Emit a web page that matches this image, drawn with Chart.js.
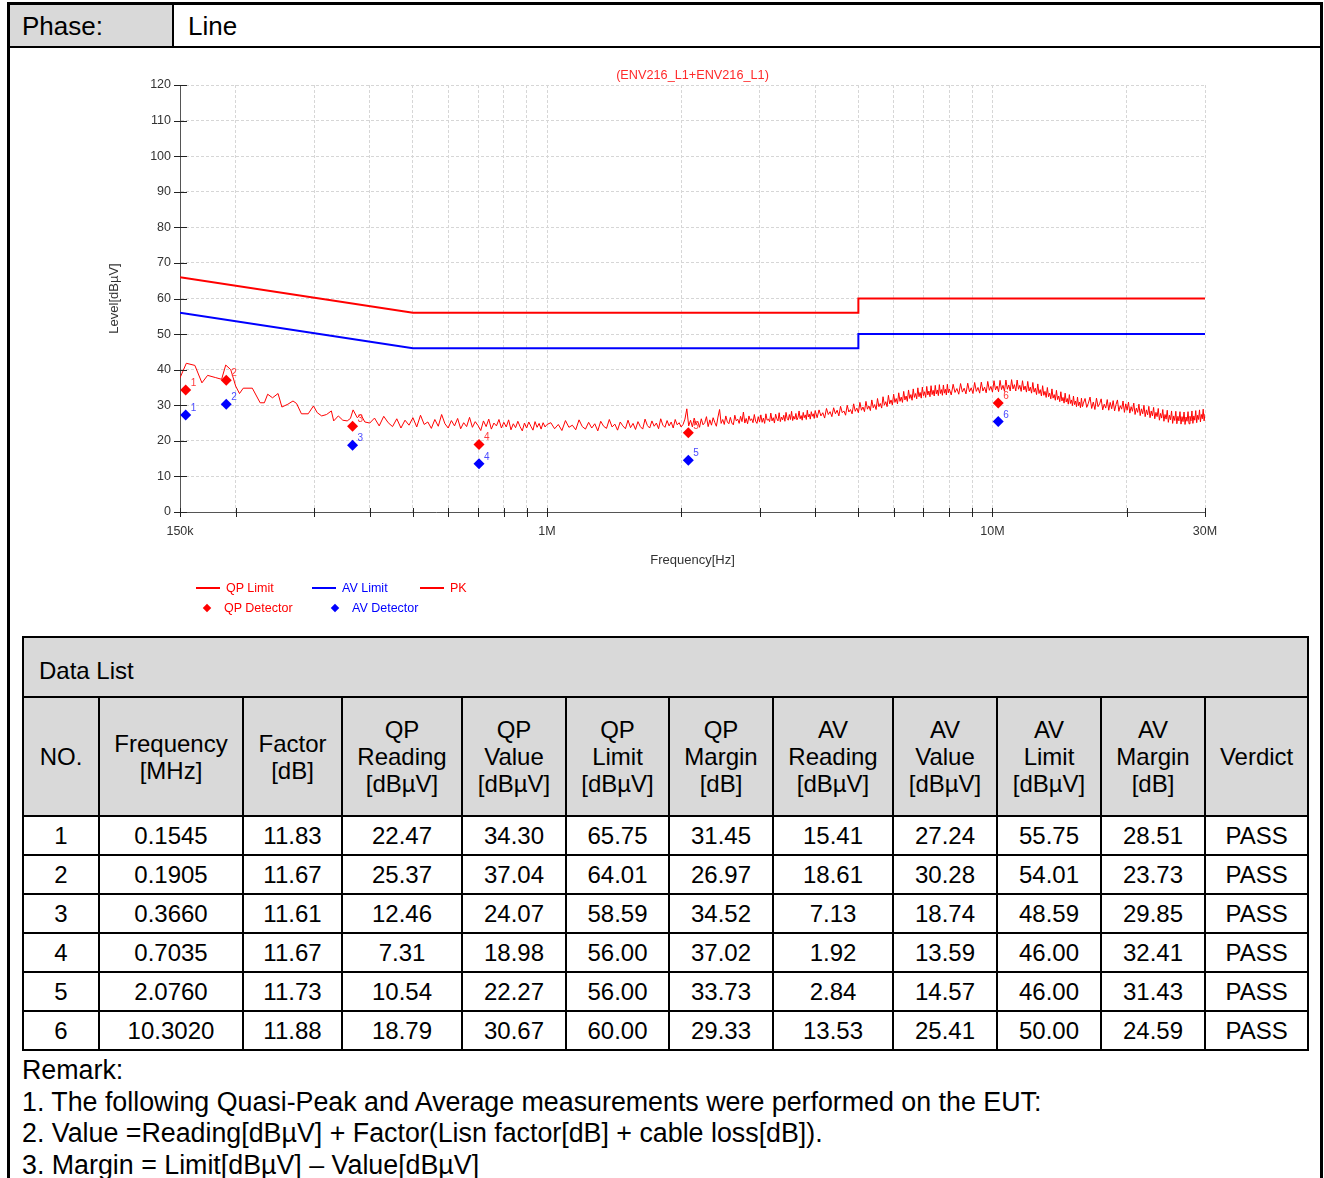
<!DOCTYPE html>
<html>
<head>
<meta charset="utf-8">
<script src="https://cdn.jsdelivr.net/npm/chart.js@4.4.1/dist/chart.umd.min.js"></script>
<style>
  html, body { margin:0; padding:0; background:#fff; }
  body { width:1324px; height:1178px; position:relative; overflow:hidden; font-family:'Liberation Sans', Arial, sans-serif; color:#000; }
  .blk { position:absolute; background:#000; }
  #phaseCell { position:absolute; left:10px; top:5px; width:162px; height:41px; background:#d9d9d9; }
  .phaseTxt { position:absolute; top:5px; height:41px; line-height:43px; font-size:26px; }
  #chartBox { position:absolute; left:0; top:49px; width:1324px; height:580px; }
  #legend { position:absolute; left:0; top:0; font-size:12.5px; }
  .lgLine { position:absolute; height:2px; width:24px; }
  .lgTxt { position:absolute; line-height:14px; white-space:nowrap; }
  .lgDia { position:absolute; width:6px; height:6px; transform:rotate(45deg); }
  #dataTable { position:absolute; left:22px; top:636px; width:1285px; border-collapse:collapse; table-layout:fixed; font-size:24px; }
  #dataTable td { border:2px solid #000; text-align:center; padding:0; vertical-align:middle; }
  #dataTable td.gray { background:#d9d9d9; }
  #dataTable td.hdr { line-height:27px; height:117px; }
  #dataTable td.title { text-align:left; padding-left:15px; height:60px; padding-top:8px; box-sizing:border-box; }
  #dataTable td.val { height:37px; }
  #remarks { position:absolute; left:22px; top:1055px; font-size:26.8px; line-height:31.7px; white-space:nowrap; }
</style>
</head>
<body>
<div id="phaseCell"></div>
<div class="phaseTxt" style="left:22px;">Phase:</div>
<div class="phaseTxt" style="left:188px;">Line</div>
<div class="blk" style="left:172px;top:5px;width:2px;height:41px;"></div>
<div class="blk" style="left:10px;top:46px;width:1311px;height:2px;"></div>

<div id="chartBox"><canvas id="c"></canvas></div>
<div id="legend"></div>

<table id="dataTable"><colgroup id="cols"></colgroup><tbody id="tbody"></tbody></table>
<div id="remarks"></div>

<div class="blk" style="left:7px;top:2px;width:1316px;height:3px;"></div>
<div class="blk" style="left:7px;top:2px;width:3px;height:1176px;"></div>
<div class="blk" style="left:1320px;top:2px;width:3px;height:1176px;"></div>

<script>
// ---------------- data ----------------
const chartTitle = '(ENV216_L1+ENV216_L1)';
const xAxisTitle = 'Frequency[Hz]';
const yAxisTitle = 'Level[dBµV]';

// axis ticks (MHz)
const xTickValues = [0.15,0.2,0.3,0.4,0.5,0.6,0.7,0.8,0.9,1,2,3,4,5,6,7,8,9,10,20,30];
const xLabeledValues = [0.15, 1, 10, 30];
const xLabelTexts = ['150k', '1M', '10M', '30M'];
const yMin = 0, yMax = 120, yStep = 10;

// limit lines
const limitFreqMHz = [0.15, 0.5, 5, 5, 30];
const qpLimitLine = [66, 56, 56, 60, 60];
const avLimitLine = [56, 46, 46, 50, 50];

// peak trace, 150 kHz - 2 MHz (frequency in kHz, level in dBµV)
const pkFreqKHz = [
150,155,162,168,173,180,186,190,195,200,204,208,218,227,232,236,242,249,254,262,269,274,281,291,299,305,312,320,328,332,340,348,356,362,367,375,382,390,
400,410,420,430,440,450,460,470,480,490,500,510,520,530,540,550,560,570,580,590,600,610,620,630,640,650,660,670,680,690,700,710,720,730,740,750,760,770,780,790,800,810,820,830,840,850,860,870,880,890,900,910,920,930,940,950,960,970,980,990,1000,
1020,1040,1060,1080,1100,1120,1140,1160,1180,1200,1220,1240,1260,1280,1300,1320,1340,1360,1380,1400,1420,1440,1460,1480,1500,1520,1540,1560,1580,1600,1620,1640,1660,1680,1700,1720,1740,1760,1780,1800,1820,1840,1860,1880,1900,1920,1940,1960,1980,2000
];
const pkLevel = [
37.7,41.8,41.2,36.3,38.4,37.8,37.3,41.3,40.0,35.4,33.3,34.8,34.8,30.7,30.7,33.1,32.1,33.3,29.5,30.3,31.2,30.5,27.6,27.6,29.8,27.9,27.0,27.4,28.4,25.6,27.0,25.8,25.6,26.3,28.7,26.5,27.4,25.3,
25.0,26.4,24.2,26.9,25.1,24.0,26.2,23.6,25.8,24.4,26.5,23.9,27.2,24.6,25.3,23.5,26.0,24.1,27.4,24.8,23.6,25.7,24.2,26.3,23.4,25.1,24.0,26.6,23.8,25.4,24.3,22.9,25.6,24.0,26.1,23.3,25.0,24.2,26.0,23.6,25.2,23.9,25.9,23.1,24.8,23.7,25.5,24.0,22.8,25.0,23.6,25.3,24.1,23.0,25.4,23.8,24.9,23.3,25.1,23.9,24.6,
25.1,23.4,24.6,22.9,25.7,23.8,24.4,23.1,25.9,24.0,23.3,25.2,23.6,24.8,22.8,25.5,24.1,23.5,26.0,23.9,24.7,23.0,25.3,24.2,23.4,25.8,23.7,24.9,23.2,25.4,24.0,23.3,26.1,24.3,23.6,25.6,24.1,25.0,23.4,26.2,24.4,23.8,25.7,24.2,25.3,23.6,26.0,24.5,25.1,23.9
];

// peak trace, 2 - 30 MHz sweeps (start / step in kHz; one level per step after the start)
const pkSweepStartKHz = [2000, 4000, 8000, 16000];
const pkSweepStepKHz = [20, 40, 80, 140];
const pkLevel2to4M = [
24.6,26.1,29.0,24.2,25.8,23.9,26.4,24.7,25.5,23.8,
26.2,24.5,25.1,26.8,24.0,25.9,24.4,26.5,25.2,24.1,
26.7,28.8,24.9,26.0,24.6,27.0,25.3,24.8,26.6,25.0,
24.5,27.2,25.6,26.1,24.9,26.9,25.4,28.1,25.0,26.3,
24.8,27.0,25.7,26.2,25.1,27.4,25.5,24.9,26.8,25.3,
27.3,25.2,26.4,24.9,27.6,25.8,26.1,25.4,27.8,25.6,
26.5,25.0,27.5,26.2,25.6,27.9,25.4,26.7,25.9,27.2,
25.5,28.0,26.3,25.8,27.4,26.0,28.3,25.7,26.9,26.1,
27.7,25.9,26.6,28.4,26.2,27.1,25.8,28.0,26.5,27.3,
26.0,28.6,26.7,27.5,26.1,28.2,26.9,27.6,26.3,28.5
];
const pkLevel4to8M = [
26.5,28.7,27.0,27.9,26.4,29.1,27.4,28.2,26.8,29.3,
27.6,28.6,27.0,29.7,27.9,28.4,27.2,30.0,28.1,28.8,
27.6,30.4,28.3,29.2,27.9,30.8,28.6,29.5,28.2,31.1,
28.9,29.8,28.5,31.5,29.3,30.2,28.8,31.9,29.6,30.5,
29.2,32.4,30.0,31.0,29.6,32.8,30.4,31.5,30.1,33.1,
30.8,31.9,30.4,33.5,31.1,32.3,30.8,33.9,31.5,32.6,
31.1,34.3,31.9,33.0,31.4,34.6,32.2,33.3,31.8,34.9,
32.4,33.6,32.0,35.1,32.7,33.8,32.2,35.3,32.9,34.0,
32.4,35.5,33.0,34.2,32.6,35.6,33.2,34.3,32.7,35.8,
33.3,34.4,32.8,35.7,33.4,34.5,32.9,35.9,33.5,34.6
];
const pkLevel8to16M = [
32.9,35.9,33.6,34.7,33.1,36.1,33.7,34.8,33.2,36.2,
33.8,34.9,33.3,36.4,33.9,35.0,33.4,36.5,34.0,35.1,
33.5,36.7,34.2,35.3,33.7,36.9,34.3,35.4,33.8,37.0,
34.4,35.6,33.9,37.1,34.5,35.7,34.0,37.2,34.6,35.8,
34.0,37.1,34.5,35.6,33.9,36.9,34.3,35.4,33.7,36.7,
34.0,35.1,33.4,36.4,33.7,34.8,33.0,36.0,33.3,34.4,
32.6,35.5,32.8,33.9,32.2,35.0,32.4,33.4,31.8,34.6,
32.0,33.0,31.4,34.2,31.6,32.6,31.0,33.8,31.2,32.2,
30.6,33.4,30.9,31.9,30.3,33.0,30.5,31.5,29.9,32.6,
30.2,31.2,29.6,32.3,29.9,30.9,29.3,32.0,29.6,30.6
];
const pkLevel16to30M = [
31.9,29.4,30.6,32.3,29.1,30.9,28.8,32.0,29.6,30.4,
31.8,28.7,30.3,29.2,31.6,28.6,30.8,29.0,31.3,28.4,
30.2,31.5,28.3,29.9,28.9,31.2,28.0,30.4,28.6,30.9,
27.8,29.6,28.3,30.6,27.4,29.2,28.0,30.3,27.1,29.0,
27.6,30.0,26.8,28.7,27.3,29.7,26.5,28.4,27.0,29.4,
26.2,28.0,26.8,29.1,25.8,27.7,26.4,28.8,25.5,27.4,
26.1,28.6,25.2,27.2,25.9,28.4,24.9,27.0,25.7,28.3,
24.8,26.9,25.6,28.2,24.7,26.8,25.4,28.1,24.6,26.7,
25.5,28.2,24.8,26.9,25.6,28.4,24.9,27.0,25.8,28.5,
25.1,27.2,26.0,28.7,25.3,27.4,26.2,28.9,25.6,27.6
];
const pkSweepLevels = [pkLevel2to4M, pkLevel4to8M, pkLevel8to16M, pkLevel16to30M];

// final measurement table
const rowNo = [1, 2, 3, 4, 5, 6];
const measFreqMHz = [0.1545, 0.1905, 0.3660, 0.7035, 2.0760, 10.3020];
const factorDb = [11.83, 11.67, 11.61, 11.67, 11.73, 11.88];
const qpReading = [22.47, 25.37, 12.46, 7.31, 10.54, 18.79];
const qpValue = [34.30, 37.04, 24.07, 18.98, 22.27, 30.67];
const qpLimitVal = [65.75, 64.01, 58.59, 56.00, 56.00, 60.00];
const qpMargin = [31.45, 26.97, 34.52, 37.02, 33.73, 29.33];
const avReading = [15.41, 18.61, 7.13, 1.92, 2.84, 13.53];
const avValue = [27.24, 30.28, 18.74, 13.59, 14.57, 25.41];
const avLimitVal = [55.75, 54.01, 48.59, 46.00, 46.00, 50.00];
const avMargin = [28.51, 23.73, 29.85, 32.41, 31.43, 24.59];
const verdict = ['PASS', 'PASS', 'PASS', 'PASS', 'PASS', 'PASS'];

const tableTitle = 'Data List';
const tableHeaders = ['NO.', 'Frequency<br>[MHz]', 'Factor<br>[dB]', 'QP<br>Reading<br>[dBµV]', 'QP<br>Value<br>[dBµV]', 'QP<br>Limit<br>[dBµV]', 'QP<br>Margin<br>[dB]', 'AV<br>Reading<br>[dBµV]', 'AV<br>Value<br>[dBµV]', 'AV<br>Limit<br>[dBµV]', 'AV<br>Margin<br>[dB]', 'Verdict'];
const remarkLines = [
  'Remark:',
  '1. The following Quasi-Peak and Average measurements were performed on the EUT:',
  '2. Value =Reading[dBµV] + Factor(Lisn factor[dB] + cable loss[dB]).',
  '3. Margin = Limit[dBµV] – Value[dBµV]'
];

// ---------------- chart ----------------
const FONT = "'Liberation Sans', Arial, sans-serif";
const RED = '#ff0000', BLUE = '#0000ff';

const toXY = (xs, ys) => xs.map((x, i) => ({x: x, y: ys[i]}));

const pkPoints = toXY(pkFreqKHz.map(k => k / 1000), pkLevel);
pkSweepLevels.forEach((levels, s) => {
  levels.forEach((v, i) => {
    pkPoints.push({ x: (pkSweepStartKHz[s] + (i + 1) * pkSweepStepKHz[s]) / 1000, y: v });
  });
});

const datasets = [
  { label: 'QP Detector', data: toXY(measFreqMHz, qpValue), showLine: false, pointStyle: 'rectRot', pointRadius: 5.5,
    backgroundColor: RED, borderColor: RED, borderWidth: 0, order: 0, markerLabels: rowNo, markerLabelColor: '#ff3a3a' },
  { label: 'AV Detector', data: toXY(measFreqMHz, avValue), showLine: false, pointStyle: 'rectRot', pointRadius: 5.5,
    backgroundColor: BLUE, borderColor: BLUE, borderWidth: 0, order: 1, markerLabels: rowNo, markerLabelColor: '#4a4aff' },
  { label: 'QP Limit', data: toXY(limitFreqMHz, qpLimitLine), borderColor: RED, borderWidth: 2, pointRadius: 0, order: 3 },
  { label: 'AV Limit', data: toXY(limitFreqMHz, avLimitLine), borderColor: BLUE, borderWidth: 2, pointRadius: 0, order: 4 },
  { label: 'PK', data: pkPoints, borderColor: RED, borderWidth: 1, pointRadius: 0, order: 2 }
];

const crossTicks = {
  id: 'crossTicks',
  afterDraw(chart) {
    const {ctx, scales: {x, y}, chartArea} = chart;
    ctx.save();
    ctx.strokeStyle = '#222';
    ctx.lineWidth = 1;
    ctx.beginPath();
    y.ticks.forEach(t => {
      const py = Math.round(y.getPixelForValue(t.value)) + 0.5;
      ctx.moveTo(chartArea.left - 6, py); ctx.lineTo(chartArea.left + 7, py);
    });
    x.ticks.forEach(t => {
      const px = Math.round(x.getPixelForValue(t.value)) + 0.5;
      ctx.moveTo(px, chartArea.bottom - 4); ctx.lineTo(px, chartArea.bottom + 5);
    });
    ctx.stroke();
    ctx.restore();
  }
};

const markerLabels = {
  id: 'markerLabels',
  afterDatasetsDraw(chart) {
    const ctx = chart.ctx;
    ctx.save();
    ctx.font = '10px ' + FONT;
    ctx.textAlign = 'left';
    ctx.textBaseline = 'alphabetic';
    chart.data.datasets.forEach((ds, i) => {
      if (!ds.markerLabels) return;
      ctx.fillStyle = ds.markerLabelColor;
      chart.getDatasetMeta(i).data.forEach((pt, j) => {
        ctx.fillText(String(ds.markerLabels[j]), pt.x + 5, pt.y - 4);
      });
    });
    ctx.restore();
  }
};

new Chart(document.getElementById('c'), {
  type: 'line',
  data: { datasets: datasets },
  plugins: [crossTicks, markerLabels],
  options: {
    responsive: true,
    maintainAspectRatio: false,
    animation: false,
    events: [],
    layout: { padding: { left: 100, right: 119, top: 0, bottom: 61.2 } },
    elements: { line: { tension: 0 } },
    plugins: {
      legend: { display: false },
      tooltip: { enabled: false },
      title: { display: true, text: chartTitle, color: '#ff2a2a', fullSize: false,
               font: { family: FONT, size: 12.7, weight: 'normal' }, padding: { top: 18.4, bottom: 2.4 } }
    },
    scales: {
      x: {
        type: 'logarithmic', min: 0.15, max: 30,
        afterBuildTicks: (s) => { s.ticks = xTickValues.map(v => ({ value: v })); },
        afterFit: (s) => { s.height = 55.8; },
        ticks: {
          autoSkip: false, maxRotation: 0, padding: 12, color: '#333',
          font: { family: FONT, size: 12.5 },
          callback: (v) => { const k = xLabeledValues.indexOf(v); return k >= 0 ? xLabelTexts[k] : ''; }
        },
        grid: { color: '#d6d6d6', lineWidth: 1, drawTicks: false },
        border: { display: true, color: '#555', width: 1, dash: [3, 2] },
        title: { display: true, text: xAxisTitle, color: '#333', font: { family: FONT, size: 13 }, padding: { top: 0, bottom: 0 } }
      },
      y: {
        min: yMin, max: yMax,
        afterFit: (s) => { s.width = 80; },
        ticks: { stepSize: yStep, padding: 9, color: '#333', font: { family: FONT, size: 12.5 } },
        grid: { color: '#d6d6d6', lineWidth: 1, drawTicks: false },
        border: { display: true, color: '#555', width: 1, dash: [3, 2] },
        title: { display: true, text: yAxisTitle, color: '#333', font: { family: FONT, size: 13 }, padding: { top: 7, bottom: 0 } }
      }
    }
  }
});

// ---------------- legend (HTML) ----------------
const legendLayout = {
  'QP Limit':    { kind: 'line', x: 196, y: 588 },
  'AV Limit':    { kind: 'line', x: 312, y: 588 },
  'PK':          { kind: 'line', x: 420, y: 588 },
  'QP Detector': { kind: 'dia',  x: 203, y: 608 },
  'AV Detector': { kind: 'dia',  x: 331, y: 608 }
};
const lg = document.getElementById('legend');
datasets.forEach(ds => {
  const L = legendLayout[ds.label];
  const col = ds.borderColor;
  if (L.kind === 'line') {
    const ln = document.createElement('div');
    ln.className = 'lgLine';
    ln.style.cssText = `left:${L.x}px;top:${L.y - 1}px;background:${col};`;
    lg.appendChild(ln);
    const t = document.createElement('div');
    t.className = 'lgTxt';
    t.style.cssText = `left:${L.x + 30}px;top:${L.y - 7}px;color:${col};`;
    t.textContent = ds.label;
    lg.appendChild(t);
  } else {
    const d = document.createElement('div');
    d.className = 'lgDia';
    d.style.cssText = `left:${L.x + 1}px;top:${L.y - 3}px;background:${col};`;
    lg.appendChild(d);
    const t = document.createElement('div');
    t.className = 'lgTxt';
    t.style.cssText = `left:${L.x + 21}px;top:${L.y - 7}px;color:${col};`;
    t.textContent = ds.label;
    lg.appendChild(t);
  }
});

// ---------------- table ----------------
const colWidths = [76,144,99,120,104,103,104,120,104,104,104,103];
const cols = document.getElementById('cols');
colWidths.forEach(w => { const c = document.createElement('col'); c.style.width = w + 'px'; cols.appendChild(c); });
const tb = document.getElementById('tbody');
let html = `<tr><td class="gray title" colspan="12">${tableTitle}</td></tr>`;
html += '<tr>' + tableHeaders.map(h => `<td class="gray hdr">${h}</td>`).join('') + '</tr>';
const f2 = v => v.toFixed(2);
rowNo.forEach((n, i) => {
  const cells = [String(n), measFreqMHz[i].toFixed(4), f2(factorDb[i]), f2(qpReading[i]), f2(qpValue[i]), f2(qpLimitVal[i]),
    f2(qpMargin[i]), f2(avReading[i]), f2(avValue[i]), f2(avLimitVal[i]), f2(avMargin[i]), verdict[i]];
  html += '<tr>' + cells.map(c => `<td class="val">${c}</td>`).join('') + '</tr>';
});
tb.innerHTML = html;

document.getElementById('remarks').innerHTML = remarkLines.map(l => `<div>${l}</div>`).join('');
</script>
</body>
</html>
